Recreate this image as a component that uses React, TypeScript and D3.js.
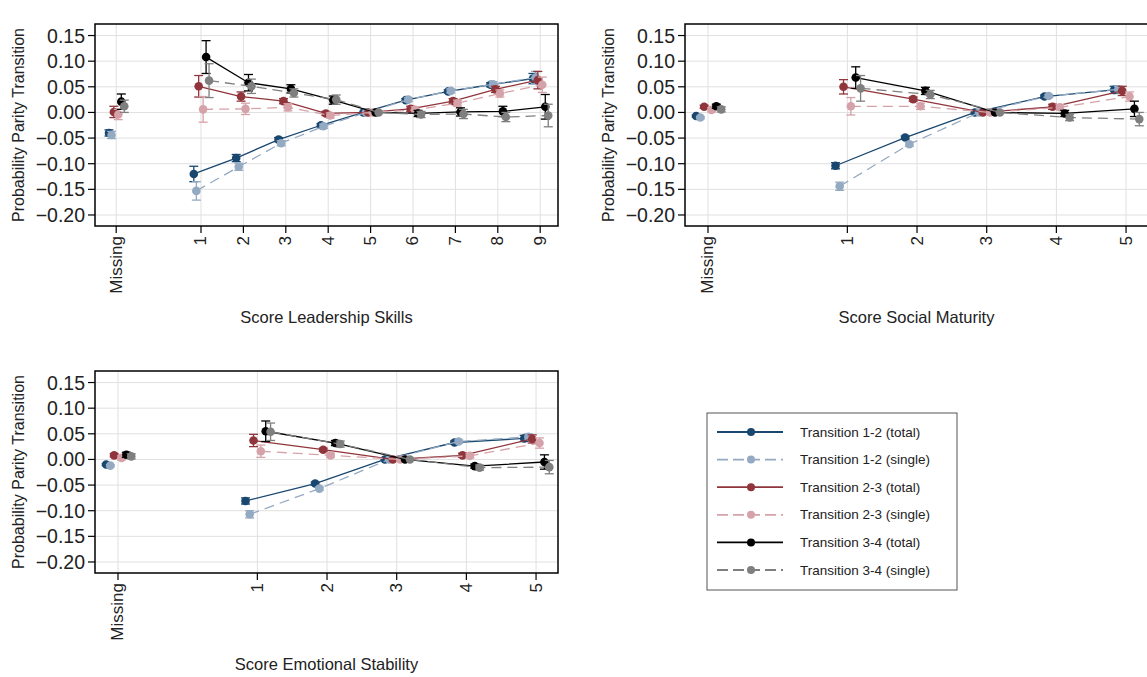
import React from 'react';
import * as d3 from 'd3';

// ---- Category labels ----
const leadershipScores = ['Missing', '1', '2', '3', '4', '5', '6', '7', '8', '9'];
const maturityScores = ['Missing', '1', '2', '3', '4', '5'];
const stabilityScores = ['Missing', '1', '2', '3', '4', '5'];
const yTicks = [0.15, 0.1, 0.05, 0, -0.05, -0.1, -0.15, -0.2];

// ---- Leadership skills: estimates and CI half-widths ----
const leadT12Total = [-0.040, -0.120, -0.089, -0.053, -0.025, 0, 0.024, 0.041, 0.054, 0.066];
const leadT12TotalErr = [0.006, 0.015, 0.007, 0.004, 0.003, 0, 0.003, 0.003, 0.004, 0.010];
const leadT12Single = [-0.044, -0.153, -0.106, -0.060, -0.027, 0, 0.025, 0.042, 0.055, 0.068];
const leadT12SingleErr = [0.007, 0.018, 0.007, 0.005, 0.004, 0, 0.004, 0.004, 0.005, 0.012];
const leadT23Total = [0.001, 0.051, 0.031, 0.022, -0.002, 0, 0.007, 0.022, 0.045, 0.063];
const leadT23TotalErr = [0.011, 0.021, 0.009, 0.005, 0.004, 0, 0.005, 0.005, 0.006, 0.017];
const leadT23Single = [-0.004, 0.006, 0.007, 0.010, -0.006, 0, 0.005, 0.018, 0.037, 0.054];
const leadT23SingleErr = [0.010, 0.025, 0.011, 0.007, 0.005, 0, 0.006, 0.006, 0.007, 0.015];
const leadT34Total = [0.021, 0.108, 0.058, 0.046, 0.024, 0, -0.002, 0.001, 0.002, 0.011];
const leadT34TotalErr = [0.015, 0.032, 0.016, 0.008, 0.008, 0, 0.006, 0.008, 0.010, 0.024];
const leadT34Single = [0.012, 0.062, 0.051, 0.038, 0.025, 0, -0.004, -0.003, -0.009, -0.006];
const leadT34SingleErr = [0.012, 0.033, 0.014, 0.008, 0.009, 0, 0.006, 0.009, 0.009, 0.022];

// ---- Social maturity ----
const matT12Total = [-0.007, -0.104, -0.049, 0, 0.031, 0.044];
const matT12TotalErr = [0.002, 0.006, 0.003, 0, 0.003, 0.007];
const matT12Single = [-0.010, -0.144, -0.062, 0, 0.032, 0.045];
const matT12SingleErr = [0.002, 0.008, 0.004, 0, 0.003, 0.006];
const matT23Total = [0.011, 0.050, 0.026, 0, 0.011, 0.042];
const matT23TotalErr = [0.003, 0.014, 0.004, 0, 0.005, 0.009];
const matT23Single = [0.005, 0.012, 0.012, 0, 0.010, 0.031];
const matT23SingleErr = [0.004, 0.017, 0.006, 0, 0.005, 0.009];
const matT34Total = [0.012, 0.068, 0.042, 0, -0.002, 0.007];
const matT34TotalErr = [0.004, 0.021, 0.007, 0, 0.006, 0.015];
const matT34Single = [0.006, 0.047, 0.035, 0, -0.010, -0.013];
const matT34SingleErr = [0.005, 0.025, 0.008, 0, 0.006, 0.013];

// ---- Emotional stability ----
const stabT12Total = [-0.010, -0.081, -0.047, 0, 0.033, 0.041];
const stabT12TotalErr = [0.002, 0.006, 0.003, 0, 0.003, 0.006];
const stabT12Single = [-0.012, -0.107, -0.057, 0, 0.035, 0.044];
const stabT12SingleErr = [0.002, 0.007, 0.003, 0, 0.003, 0.006];
const stabT23Total = [0.008, 0.037, 0.019, 0, 0.008, 0.040];
const stabT23TotalErr = [0.003, 0.012, 0.003, 0, 0.004, 0.008];
const stabT23Single = [0.003, 0.016, 0.008, 0, 0.007, 0.032];
const stabT23SingleErr = [0.004, 0.012, 0.004, 0, 0.004, 0.010];
const stabT34Total = [0.009, 0.055, 0.032, 0, -0.013, -0.005];
const stabT34TotalErr = [0.005, 0.020, 0.005, 0, 0.004, 0.014];
const stabT34Single = [0.006, 0.054, 0.030, 0, -0.016, -0.015];
const stabT34SingleErr = [0.005, 0.017, 0.006, 0, 0.005, 0.013];

// ---- Series styling (legend order) ----
const seriesNames = [
  'Transition 1-2 (total)',
  'Transition 1-2 (single)',
  'Transition 2-3 (total)',
  'Transition 2-3 (single)',
  'Transition 3-4 (total)',
  'Transition 3-4 (single)',
];
const seriesColors = ['#1a476f', '#94aac2', '#90353b', '#d6a2a9', '#000000', '#7f7f7f'];
const seriesDashed = [false, true, false, true, false, true];
// horizontal dodge, as a fraction of one category step
const seriesDodge = [-0.17, -0.11, -0.055, 0.05, 0.12, 0.19];

const FONT = '"Liberation Sans", Arial, sans-serif';
const PW = 463;
const PH = 202;
const Y_DOMAIN: [number, number] = [-0.2215, 0.1725];

type PanelProps = {
  left: number;
  top: number;
  title: string;
  categories: string[];
  xDomain: [number, number];
  values: number[][];
  errors: number[][];
};

function Panel({ left, top, title, categories, xDomain, values, errors }: PanelProps) {
  const xPos = categories.map((c, i) => (i === 0 ? -1 : +c));
  const x = d3.scaleLinear().domain(xDomain).range([left, left + PW]);
  const y = d3.scaleLinear().domain(Y_DOMAIN).range([top + PH, top]);
  const step = x(1) - x(0);
  const bottom = top + PH;

  const line = d3
    .line<[number, number]>()
    .x((d) => d[0])
    .y((d) => d[1]);

  return (
    <g>
      {/* grid */}
      {yTicks.map((t) => (
        <line key={'gy' + t} x1={left} x2={left + PW} y1={y(t)} y2={y(t)} stroke="#e0e0e0" strokeWidth={1} />
      ))}
      {xPos.map((v, i) => (
        <line key={'gx' + i} x1={x(v)} x2={x(v)} y1={top} y2={bottom} stroke="#e0e0e0" strokeWidth={1} />
      ))}

      {/* series */}
      {values.map((vals, s) => {
        const px = vals.map((v, i) => [x(xPos[i]) + seriesDodge[s] * step, y(v)] as [number, number]);
        const color = seriesColors[s];
        return (
          <g key={'s' + s}>
            <path
              d={line(px.slice(1)) || ''}
              fill="none"
              stroke={color}
              strokeWidth={1.3}
              strokeDasharray={seriesDashed[s] ? '10,6' : undefined}
            />
            {vals.map((v, i) => {
              const e = errors[s][i];
              if (!e) return null;
              const cx = px[i][0];
              const y1 = y(v + e);
              const y2 = y(v - e);
              return (
                <g key={'e' + i} stroke={color} strokeWidth={1.3}>
                  <line x1={cx} x2={cx} y1={y1} y2={y2} />
                  <line x1={cx - 4.5} x2={cx + 4.5} y1={y1} y2={y1} />
                  <line x1={cx - 4.5} x2={cx + 4.5} y1={y2} y2={y2} />
                </g>
              );
            })}
            {px.map((p, i) => (
              <circle key={'m' + i} cx={p[0]} cy={p[1]} r={4.3} fill={color} />
            ))}
          </g>
        );
      })}

      {/* frame */}
      <rect x={left} y={top} width={PW} height={PH} fill="none" stroke="#000" strokeWidth={1.5} />

      {/* y axis */}
      {yTicks.map((t) => (
        <g key={'yt' + t}>
          <line x1={left - 7} x2={left} y1={y(t)} y2={y(t)} stroke="#000" strokeWidth={1.2} />
          <text
            x={left - 10}
            y={y(t)}
            textAnchor="end"
            dominantBaseline="central"
            fontFamily={FONT}
            fontSize={19.5}
            fill="#222"
          >
            {d3.format('.2f')(t)}
          </text>
        </g>
      ))}
      <text
        transform={`translate(${left - 77},${top + PH / 2}) rotate(-90)`}
        textAnchor="middle"
        dominantBaseline="central"
        fontFamily={FONT}
        fontSize={16}
        fill="#222"
      >
        Probability Parity Transition
      </text>

      {/* x axis */}
      {categories.map((c, i) => (
        <g key={'xt' + i}>
          <line x1={x(xPos[i])} x2={x(xPos[i])} y1={bottom} y2={bottom + 7} stroke="#000" strokeWidth={1.2} />
          <text
            transform={`translate(${x(xPos[i])},${bottom + 10}) rotate(-90)`}
            textAnchor="end"
            dominantBaseline="central"
            fontFamily={FONT}
            fontSize={17}
            fill="#222"
          >
            {c}
          </text>
        </g>
      ))}
      <text
        x={left + PW / 2}
        y={bottom + 91}
        textAnchor="middle"
        dominantBaseline="central"
        fontFamily={FONT}
        fontSize={16.5}
        fill="#222"
      >
        {title}
      </text>
    </g>
  );
}

function Legend({ left, top }: { left: number; top: number }) {
  return (
    <g>
      <rect x={left} y={top} width={250} height={177} fill="#fff" stroke="#555" strokeWidth={1} />
      {seriesNames.map((name, i) => {
        const cy = top + 19 + i * 27.6;
        return (
          <g key={name}>
            <line
              x1={left + 10}
              x2={left + 76}
              y1={cy}
              y2={cy}
              stroke={seriesColors[i]}
              strokeWidth={1.8}
              strokeDasharray={seriesDashed[i] ? '11,5' : undefined}
            />
            <circle cx={left + 44} cy={cy} r={4} fill={seriesColors[i]} />
            <text
              x={left + 93}
              y={cy}
              dominantBaseline="central"
              fontFamily={FONT}
              fontSize={13.5}
              fill="#222"
            >
              {name}
            </text>
          </g>
        );
      })}
    </g>
  );
}

export default function App() {
  return (
    <svg
      width={1147}
      height={677}
      viewBox="0 0 1147 677"
      style={{ position: 'absolute', left: 0, top: 0, background: '#fff' }}
    >
      <rect width={1147} height={677} fill="#fff" />
      <Panel
        left={95}
        top={24}
        title="Score Leadership Skills"
        categories={leadershipScores}
        xDomain={[-1.5, 9.42]}
        values={[leadT12Total, leadT12Single, leadT23Total, leadT23Single, leadT34Total, leadT34Single]}
        errors={[leadT12TotalErr, leadT12SingleErr, leadT23TotalErr, leadT23SingleErr, leadT34TotalErr, leadT34SingleErr]}
      />
      <Panel
        left={685}
        top={24}
        title="Score Social Maturity"
        categories={maturityScores}
        xDomain={[-1.33, 5.315]}
        values={[matT12Total, matT12Single, matT23Total, matT23Single, matT34Total, matT34Single]}
        errors={[matT12TotalErr, matT12SingleErr, matT23TotalErr, matT23SingleErr, matT34TotalErr, matT34SingleErr]}
      />
      <Panel
        left={95}
        top={371}
        title="Score Emotional Stability"
        categories={stabilityScores}
        xDomain={[-1.33, 5.315]}
        values={[stabT12Total, stabT12Single, stabT23Total, stabT23Single, stabT34Total, stabT34Single]}
        errors={[stabT12TotalErr, stabT12SingleErr, stabT23TotalErr, stabT23SingleErr, stabT34TotalErr, stabT34SingleErr]}
      />
      <Legend left={707} top={413} />
    </svg>
  );
}
